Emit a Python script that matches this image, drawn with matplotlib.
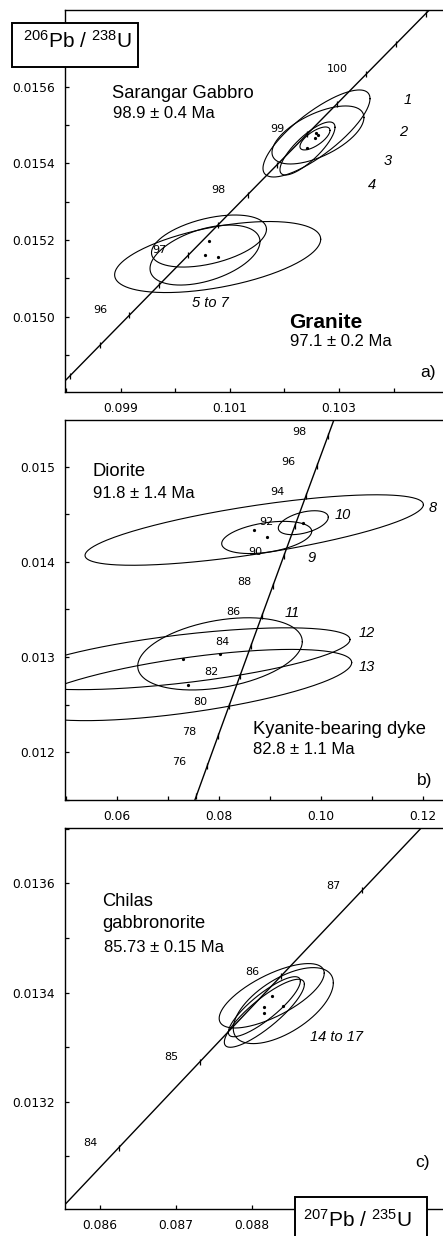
import numpy as np
import matplotlib
matplotlib.use("Agg")
import matplotlib.pyplot as plt
from matplotlib.transforms import Affine2D
from matplotlib.patches import Rectangle

W, H, DPI = 443, 1236, 100

plt.rcParams['font.family'] = ['Liberation Sans', 'DejaVu Sans']
plt.rcParams['mathtext.fontset'] = 'custom'
plt.rcParams['mathtext.rm'] = 'Liberation Sans'
plt.rcParams['mathtext.it'] = 'Liberation Sans:italic'

# Decay constants (1/yr)
LAMBDA_238 = 1.55125e-10
LAMBDA_235 = 9.8485e-10

# ---------------- panel a: Sarangar Gabbro (1-4) and granite (5-7) ----------------
gabbro_x = [0.102588, 0.102615, 0.102423, 0.102560]
gabbro_y = [0.0154784, 0.0154745, 0.0154392, 0.0154654]
gabbro_sx = [0.000980, 0.000842, 0.000504, 0.000275]
gabbro_sy = [0.0001137, 0.0000758, 0.0000693, 0.0000300]
gabbro_rho = [0.80, 0.60, 0.80, 0.70]

granite_x = [0.100778, 0.100619, 0.100546]
granite_y = [0.0151556, 0.0151974, 0.0151608]
granite_sx = [0.001887, 0.001053, 0.001007]
granite_sy = [0.0000928, 0.0000680, 0.0000784]
granite_rho = [0.50, 0.45, 0.45]

a_tick_ages = [95.0, 95.5, 96.0, 96.5, 97.0, 97.5, 98.0, 98.5, 99.0, 99.5,
               100.0, 100.5, 101.0]
a_label_ages = [96, 97, 98, 99, 100]
a_xticks = [0.098, 0.099, 0.100, 0.101, 0.102, 0.103, 0.104]
a_xlabels = ['', '0.099', '', '0.101', '', '0.103', '']
a_yticks = [0.0149, 0.0150, 0.0151, 0.0152, 0.0153, 0.0154, 0.0155, 0.0156, 0.0157]
a_ylabels = ['', '0.0150', '', '0.0152', '', '0.0154', '', '0.0156', '']

# ---------------- panel b: diorite (8-10) and kyanite-bearing dyke (11-13) ----------------
diorite_x = [0.08691, 0.089355, 0.096517]
diorite_y = [0.014334, 0.014256, 0.014411]
diorite_sx = [0.03311, 0.008807, 0.004893]
diorite_sy = [0.000370, 0.000169, 0.0001256]
diorite_rho = [0.72, 0.38, 0.45]

dyke_x = [0.080216, 0.073034, 0.074012]
dyke_y = [0.013034, 0.012983, 0.012707]
dyke_sx = [0.016106, 0.032623, 0.031977]
dyke_sy = [0.000379, 0.0003246, 0.000374]
dyke_rho = [0.34, 0.62, 0.63]

b_tick_ages = [74, 76, 78, 80, 82, 84, 86, 88, 90, 92, 94, 96, 98, 100]
b_label_ages = [76, 78, 80, 82, 84, 86, 88, 90, 92, 94, 96, 98]
b_xticks = [0.05, 0.06, 0.07, 0.08, 0.09, 0.10, 0.11, 0.12]
b_xlabels = ['', '0.06', '', '0.08', '', '0.10', '', '0.12']
b_yticks = [0.0115, 0.012, 0.0125, 0.013, 0.0135, 0.014, 0.0145, 0.015]
b_ylabels = ['', '0.012', '', '0.013', '', '0.014', '', '0.015']

# ---------------- panel c: Chilas gabbronorite (14-17) ----------------
chilas_x = [0.088265, 0.088418, 0.088168, 0.088168]
chilas_y = [0.013394, 0.013376, 0.013374, 0.013362]
chilas_sx = [0.000693, 0.000660, 0.000475, 0.000528]
chilas_sy = [0.0000590, 0.0000696, 0.0000550, 0.0000623]
chilas_rho = [0.70, 0.60, 0.85, 0.85]

c_tick_ages = [84, 85, 86, 87]
c_label_ages = [84, 85, 86, 87]
c_xticks = [0.086, 0.087, 0.088, 0.089, 0.090]
c_xlabels = ['0.086', '0.087', '0.088', '', '']
c_yticks = [0.0131, 0.0132, 0.0133, 0.0134, 0.0135, 0.0136, 0.0137]
c_ylabels = ['', '0.0132', '', '0.0134', '', '0.0136', '']


def concordia(age_ma):
    t = np.asarray(age_ma, dtype=float) * 1e6
    return np.expm1(LAMBDA_235 * t), np.expm1(LAMBDA_238 * t)


def ellipse_xy(cx, cy, sx, sy, rho, n=300):
    th = np.linspace(0, 2 * np.pi, n)
    x = cx + sx * np.cos(th)
    y = cy + sy * (rho * np.cos(th) + np.sqrt(1 - rho ** 2) * np.sin(th))
    return x, y


fig = plt.figure(figsize=(W / DPI, H / DPI), dpi=DPI)
fig.patch.set_facecolor('white')
pix = Affine2D().scale(1, -1).translate(0, H)   # top-left pixel coordinates


def make_axes(top_px, bottom_px):
    ax = fig.add_axes([65 / W, (H - bottom_px) / H, (W - 65) / W,
                       (bottom_px - top_px) / H])
    ax.spines['right'].set_visible(False)
    for s in ('left', 'top', 'bottom'):
        ax.spines[s].set_linewidth(1.0)
    ax.tick_params(direction='in', length=3, width=0.9, top=False, right=False,
                   labelsize=8.8, pad=7)
    return ax


def style_ticks(ax, xt, xl, yt, yl):
    ax.set_xticks(xt)
    ax.set_xticklabels(xl)
    ax.set_yticks(yt)
    ax.set_yticklabels(yl)
    for lbl in ax.get_xticklabels() + ax.get_yticklabels():
        lbl.set_fontfamily('DejaVu Sans')


def draw_concordia(ax, age_lo, age_hi, tick_ages, label_ages, offset):
    xs, ys = concordia(np.linspace(age_lo, age_hi, 400))
    ax.plot(xs, ys, color='black', lw=1.0, zorder=3)
    tx, ty = concordia(tick_ages)
    ax.plot(tx, ty, ls='none', marker='|', ms=5, mew=0.9, color='black', zorder=3)
    lx, ly = concordia(label_ages)
    for age, x, y in zip(label_ages, lx, ly):
        ax.annotate(str(age), (x, y), xytext=offset, textcoords='offset points',
                    ha='center', va='center', fontsize=8, family='DejaVu Sans',
                    zorder=4)


def draw_ellipses(ax, cx, cy, sx, sy, rho):
    for i in range(len(cx)):
        ex, ey = ellipse_xy(cx[i], cy[i], sx[i], sy[i], rho[i])
        ax.plot(ex, ey, color='black', lw=0.8, zorder=2)
    ax.plot(cx, cy, ls='none', marker='o', ms=1.3, color='black', zorder=2)


def ptext(x, y, s, **kw):
    fig.text(x, y, s, transform=pix, **kw)


NAME_SIZE = 13.2
AGE_SIZE = 12

# ---------------- panel a ----------------
ax_a = make_axes(10, 392)
ax_a.set_xlim(0.097982, 0.104905)
ax_a.set_ylim(0.014803, 0.015801)
draw_concordia(ax_a, 94.0, 102.0, a_tick_ages, a_label_ages, (-21, 3.6))
draw_ellipses(ax_a, gabbro_x, gabbro_y, gabbro_sx, gabbro_sy, gabbro_rho)
draw_ellipses(ax_a, granite_x, granite_y, granite_sx, granite_sy, granite_rho)
style_ticks(ax_a, a_xticks, a_xlabels, a_yticks, a_ylabels)

ptext(112, 93, 'Sarangar Gabbro', fontsize=NAME_SIZE, va='center', ha='left')
ptext(113, 113, '98.9 \u00b1 0.4 Ma', fontsize=AGE_SIZE, va='center', ha='left')
ptext(289, 323, 'Granite', fontsize=15, fontweight='bold', va='center', ha='left')
ptext(290, 341, '97.1 \u00b1 0.2 Ma', fontsize=AGE_SIZE, va='center', ha='left')
ptext(436, 373, 'a)', fontsize=12.5, va='center', ha='right')
for s, x, y in [('1', 408, 100), ('2', 403, 132), ('3', 388, 161), ('4', 372, 185),
                ('5 to 7', 210, 303)]:
    ptext(x, y, s, fontsize=10.5, style='italic', va='center', ha='center')

# ---------------- panel b ----------------
ax_b = make_axes(420, 800)
ax_b.set_xlim(0.049882, 0.123857)
ax_b.set_ylim(0.011510, 0.015489)
draw_concordia(ax_b, 70.0, 104.0, b_tick_ages, b_label_ages, (-20.5, 3.0))
draw_ellipses(ax_b, diorite_x, diorite_y, diorite_sx, diorite_sy, diorite_rho)
draw_ellipses(ax_b, dyke_x, dyke_y, dyke_sx, dyke_sy, dyke_rho)
style_ticks(ax_b, b_xticks, b_xlabels, b_yticks, b_ylabels)

ptext(93, 472, 'Diorite', fontsize=NAME_SIZE, va='center', ha='left')
ptext(93, 493, '91.8 \u00b1 1.4 Ma', fontsize=AGE_SIZE, va='center', ha='left')
ptext(253, 729, 'Kyanite-bearing dyke', fontsize=NAME_SIZE, va='center', ha='left')
ptext(253, 749, '82.8 \u00b1 1.1 Ma', fontsize=AGE_SIZE, va='center', ha='left')
ptext(432, 780, 'b)', fontsize=12.5, va='center', ha='right')
for s, x, y in [('8', 433, 508), ('10', 343, 515), ('9', 312, 558), ('11', 292, 613),
                ('12', 367, 633), ('13', 367, 667)]:
    ptext(x, y, s, fontsize=10.5, style='italic', va='center', ha='center')

# ---------------- panel c ----------------
ax_c = make_axes(828, 1209)
ax_c.set_xlim(0.085538, 0.090525)
ax_c.set_ylim(0.0130035, 0.0137013)
draw_concordia(ax_c, 83.0, 88.5, c_tick_ages, c_label_ages, (-20.6, 3.2))
draw_ellipses(ax_c, chilas_x, chilas_y, chilas_sx, chilas_sy, chilas_rho)
style_ticks(ax_c, c_xticks, c_xlabels, c_yticks, c_ylabels)

ptext(102, 902, 'Chilas', fontsize=NAME_SIZE, va='center', ha='left')
ptext(102, 923, 'gabbronorite', fontsize=NAME_SIZE, va='center', ha='left')
ptext(104, 947, '85.73 \u00b1 0.15 Ma', fontsize=AGE_SIZE, va='center', ha='left')
ptext(430, 1162, 'c)', fontsize=12.5, va='center', ha='right')
ptext(337, 1037, '14 to 17', fontsize=10.5, style='italic', va='center', ha='center')

# ---------------- axis title boxes ----------------
box_a = Rectangle((12, 23), 126, 44, transform=pix, facecolor='white',
                  edgecolor='black', lw=1.4, zorder=5)
fig.patches.append(box_a)
ptext(77, 47.5, r'$^{206}$Pb / $^{238}$U', fontsize=15, ha='center', va='baseline',
      zorder=6)

box_c = Rectangle((295, 1197), 132, 48, transform=pix, facecolor='white',
                  edgecolor='black', lw=1.4, zorder=5)
fig.patches.append(box_c)
ptext(357, 1227, r'$^{207}$Pb / $^{235}$U', fontsize=15, ha='center', va='baseline',
      zorder=6)

fig.savefig('out.png', dpi=DPI)
